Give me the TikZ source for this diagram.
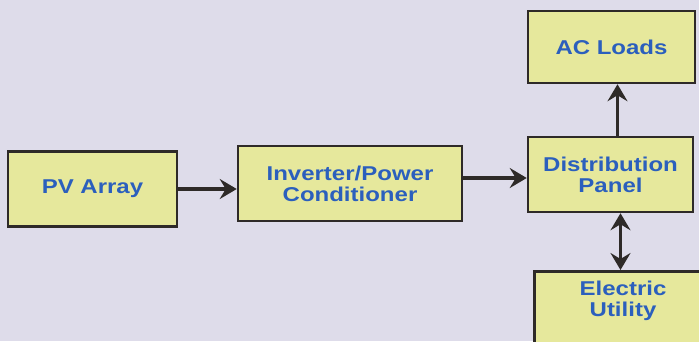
\documentclass[tikz,border=0pt]{standalone}
\usepackage{fontspec}
\newfontfamily\lab[FakeStretch=1.2]{Liberation Sans}
\usetikzlibrary{arrows.meta}
\definecolor{bg}{HTML}{DEDCEA}
\definecolor{boxfill}{HTML}{E6E89C}
\definecolor{txt}{HTML}{2B5FBD}
\definecolor{edge}{HTML}{2E2A28}
\tikzset{
  blk/.style={draw=edge, line width=2.5pt, fill=boxfill, text=txt, align=center,
    font=\lab\bfseries\fontsize{20}{21}\selectfont, inner sep=0pt},
  tip/.tip={Stealth[length=17pt,width=20pt,inset=6pt]},
  arr/.style={draw=edge, line width=3.2pt, -tip},
  darr/.style={draw=edge, line width=3.2pt, tip-tip}
}
\begin{document}
\begin{tikzpicture}[x=1pt,y=-1pt]
\useasboundingbox (0,0) rectangle (699,341);
\fill[bg] (0,0) rectangle (699,341);
\begin{scope}
\clip (0,0) rectangle (699,341);
\node[blk, minimum width=167pt, minimum height=72pt] (ac) at (611.5,47) {AC Loads};
\node[blk, minimum width=165pt, minimum height=75pt] (dist) at (610.5,174.5) {Distribution\\Panel};
\node[blk, minimum width=169pt, minimum height=75pt] (pv) at (92.5,189) {PV Array};
\node[blk, minimum width=224pt, minimum height=75pt] (inv) at (350,183.5) {Inverter/Power\\Conditioner};
\node[blk, minimum width=180pt, minimum height=80pt, anchor=north west] (util) at (533,270) {};
\node[text=txt, align=center, font=\lab\bfseries\fontsize{20}{21}\selectfont, inner sep=0pt] (utiltxt) at (623,301) {Electric\\Utility};
\end{scope}
\draw[arr] (pv.east) -- (pv.east -| inv.west);
\coordinate (a) at ([yshift=5.5pt]inv.east);
\draw[arr] (a) -- (a -| dist.west);
\coordinate (b) at ([xshift=7pt]dist.north);
\draw[arr] (b) -- (b |- ac.south);
\coordinate (c) at ([xshift=10pt]dist.south);
\draw[darr] (c) -- (c |- util.north);
\end{tikzpicture}
\end{document}
